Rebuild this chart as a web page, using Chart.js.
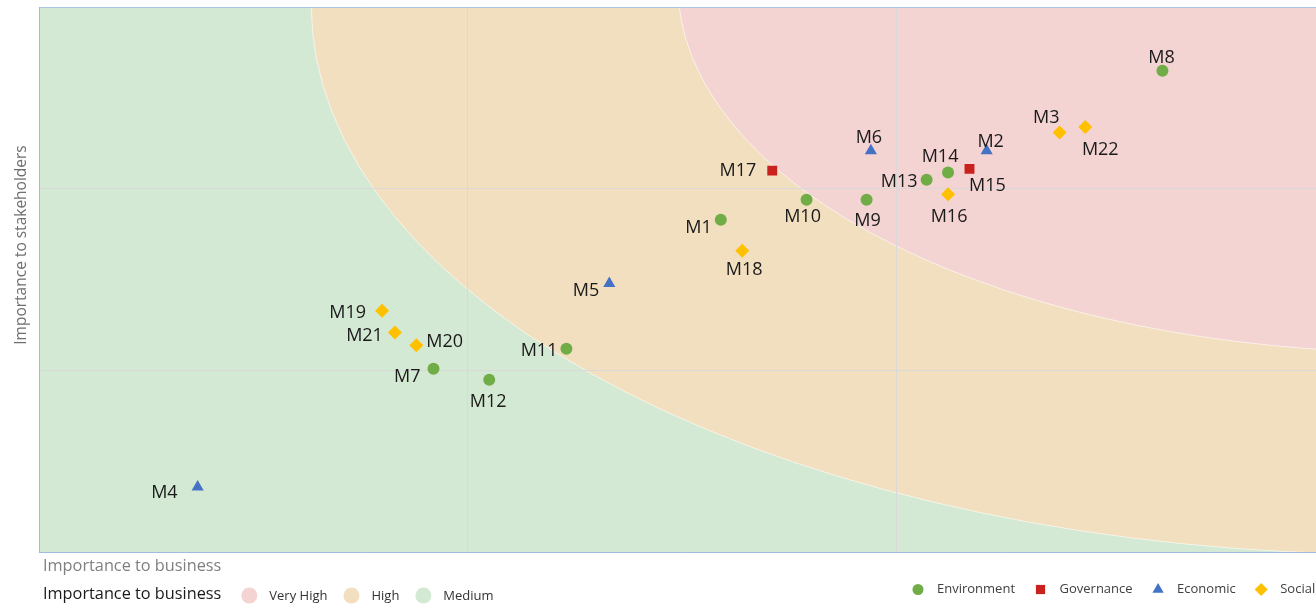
<!DOCTYPE html>
<html>
<head>
<meta charset="utf-8">
<title>Materiality matrix</title>
<script src="https://cdn.jsdelivr.net/npm/chart.js@4.4.1/dist/chart.umd.min.js"></script>
<style>
    html, body { margin: 0; padding: 0; background: #ffffff; overflow: hidden; }
    #wrap { width: 1340px; height: 605px; }
</style>
</head>
<body>
<div id="wrap"><canvas id="matrix" width="1340" height="605"></canvas></div>
<script>
// topics (axis units 0..3)
const topics = ['M1', 'M2', 'M3', 'M4', 'M5', 'M6', 'M7', 'M8', 'M9', 'M10', 'M11',
    'M12', 'M13', 'M14', 'M15', 'M16', 'M17', 'M18', 'M19', 'M20', 'M21', 'M22'];
const businessScore = [1.59, 2.21, 2.38, 0.37, 1.33, 1.94, 0.92, 2.62, 1.93, 1.79, 1.23,
    1.05, 2.07, 2.12, 2.17, 2.12, 1.71, 1.64, 0.80, 0.88, 0.83, 2.44];
const stakeholderScore = [1.83, 2.21, 2.31, 0.36, 1.48, 2.21, 1.01, 2.65, 1.94, 1.94, 1.12,
    0.95, 2.05, 2.09, 2.11, 1.97, 2.10, 1.66, 1.33, 1.14, 1.21, 2.34];
const topicGroup = ['Environment', 'Economic', 'Social', 'Economic', 'Economic', 'Economic',
    'Environment', 'Environment', 'Environment', 'Environment', 'Environment', 'Environment',
    'Environment', 'Environment', 'Governance', 'Social', 'Governance', 'Social', 'Social',
    'Social', 'Social', 'Social'];
const groupNames = ['Environment', 'Governance', 'Economic', 'Social'];

// importance zones as ellipses, axis units
const zoneNames = ['Very High', 'High', 'Medium'];
const zoneCenterX = [3.21, 3.16];
const zoneCenterY = [3.12, 3.01];
const zoneRadiusX = [1.72, 2.525];
const zoneRadiusY = [2.02, 3.02];

const axisMax = 3;

// look
const groupColors = ['#70ad47', '#c9211e', '#4472c4', '#ffc000'];
const groupPointStyles = ['circle', 'rect', 'triangle', 'rectRot'];
const groupRadius = [6, 7, 7, 7];
const zoneColors = ['#f4d3d3', '#f2dfbf', '#d4e9d3'];
const labelFont = '18px "Open Sans"';
// where each topic label sits relative to its marker
const labelAlign = ['right', 'center', 'right', 'right', 'right', 'center', 'right', 'center',
    'center', 'center', 'right', 'center', 'right', 'center', 'center', 'center', 'right',
    'center', 'right', 'left', 'right', 'center'];
const labelDx = [-9, 4, 0, -20, -10, -2, -13, -1, 1, -4, -9, -1, -9, -8, 18, 1, -16, 2, -16, 10, -12, 15];
const labelDy = [6, -11, -17, 4, 5, -15, 6, -15, 19, 15, 0, 20, 0, -18, 15, 21, -2, 17, 0, -5, 1, 21];

const datasets = groupNames.map((name, g) => {
    const points = [];
    topics.forEach((id, i) => {
        if (topicGroup[i] === name) {
            points.push({ x: businessScore[i], y: stakeholderScore[i], id: id, idx: i });
        }
    });
    return {
        label: name,
        data: points,
        backgroundColor: groupColors[g],
        borderColor: groupColors[g],
        borderWidth: 0,
        pointStyle: groupPointStyles[g],
        pointRadius: groupRadius[g],
        pointHoverRadius: groupRadius[g]
    };
});

const zonesPlugin = {
    id: 'zones',
    beforeDraw(chart) {
        const { ctx, chartArea, scales } = chart;
        const x = scales.x, y = scales.y;
        ctx.save();
        ctx.beginPath();
        ctx.rect(chartArea.left, chartArea.top, chartArea.right - chartArea.left, chartArea.bottom - chartArea.top);
        ctx.clip();
        ctx.fillStyle = zoneColors[2];
        ctx.fillRect(chartArea.left, chartArea.top, chartArea.right - chartArea.left, chartArea.bottom - chartArea.top);
        // draw the larger zone first
        for (let z = 1; z >= 0; z--) {
            const cx = x.getPixelForValue(zoneCenterX[z]);
            const cy = y.getPixelForValue(zoneCenterY[z]);
            const rx = Math.abs(x.getPixelForValue(zoneCenterX[z] + zoneRadiusX[z]) - cx);
            const ry = Math.abs(y.getPixelForValue(zoneCenterY[z] + zoneRadiusY[z]) - cy);
            ctx.beginPath();
            ctx.ellipse(cx, cy, rx, ry, 0, 0, Math.PI * 2);
            ctx.fillStyle = zoneColors[z];
            ctx.fill();
            ctx.strokeStyle = 'rgba(255,255,255,0.6)';
            ctx.lineWidth = 1;
            ctx.stroke();
        }
        ctx.restore();
    }
};

const labelsPlugin = {
    id: 'topicLabels',
    afterDatasetsDraw(chart) {
        const ctx = chart.ctx;
        ctx.save();
        ctx.font = labelFont;
        ctx.fillStyle = '#1a1a1a';
        ctx.textBaseline = 'middle';
        chart.data.datasets.forEach((ds, d) => {
            const meta = chart.getDatasetMeta(d);
            meta.data.forEach((el, j) => {
                const i = ds.data[j].idx;
                ctx.textAlign = labelAlign[i];
                ctx.fillText(ds.data[j].id, el.x + labelDx[i], el.y + labelDy[i] + 2);
            });
        });
        ctx.restore();
    }
};

const legendPlugin = {
    id: 'bottomLegend',
    afterDraw(chart) {
        const ctx = chart.ctx;
        const area = chart.chartArea;
        const draw = Chart.helpers.drawPoint;
        ctx.save();
        ctx.textBaseline = 'middle';
        ctx.textAlign = 'left';

        // axis titles
        ctx.font = '16.3px "Open Sans"';
        ctx.fillStyle = '#7f7f7f';
        ctx.fillText('Importance to business', area.left + 4, area.bottom + 14);
        ctx.save();
        ctx.translate(22, 245);
        ctx.rotate(-Math.PI / 2);
        ctx.textAlign = 'center';
        ctx.font = '15.5px "Open Sans"';
        ctx.fillStyle = '#6f6f6f';
        ctx.fillText('Importance to stakeholders', 0, 0);
        ctx.restore();

        // zone legend
        let lx = area.left + 4;
        const ly = area.bottom + 42;
        ctx.font = '16.3px "Open Sans"';
        ctx.fillStyle = '#1a1a1a';
        ctx.fillText('Importance to business', lx, ly);
        lx += ctx.measureText('Importance to business').width + 28;
        ctx.font = '13px "Open Sans"';
        zoneNames.forEach((name, z) => {
            ctx.fillStyle = zoneColors[z];
            draw(ctx, { pointStyle: 'circle', radius: 8, borderWidth: 0, rotation: 0 }, lx, ly + 1);
            ctx.fillStyle = '#333333';
            ctx.fillText(name, lx + 20, ly + 2);
            lx += 20 + ctx.measureText(name).width + 24;
        });

        // group legend
        let gx = 918;
        const gy = area.bottom + 37;
        groupNames.forEach((name, g) => {
            ctx.fillStyle = groupColors[g];
            draw(ctx, { pointStyle: groupPointStyles[g], radius: g === 0 ? 5.5 : 6.5, borderWidth: 0, rotation: 0 }, gx, gy);
            ctx.fillStyle = '#404040';
            ctx.fillText(name, gx + 19, gy);
            gx += 19 + ctx.measureText(name).width + 25.5;
        });
        ctx.restore();
    }
};

const gridColor = (ctx, borderCol) => {
    const v = ctx.tick ? ctx.tick.value : 0;
    if (v === 1 || v === 2) return '#d9d9d9';
    if (v === axisMax) return borderCol;
    return 'rgba(0,0,0,0)';
};

new Chart(document.getElementById('matrix').getContext('2d'), {
    type: 'scatter',
    data: { datasets: datasets },
    options: {
        responsive: false,
        devicePixelRatio: 1,
        animation: false,
        layout: { padding: { left: 39, top: 6.5, right: 14.6, bottom: 52.5 } },
        scales: {
            x: {
                min: 0, max: axisMax,
                ticks: { display: false, stepSize: 1 },
                grid: { color: c => gridColor(c, 'rgba(0,0,0,0)'), drawTicks: false },
                border: { color: '#9dbbe3' },
                afterFit: s => { s.height = 0; }
            },
            y: {
                min: 0, max: axisMax,
                ticks: { display: false, stepSize: 1 },
                grid: { color: c => gridColor(c, '#a9c5e8'), drawTicks: false },
                border: { color: '#9dbbe3' },
                afterFit: s => { s.width = 0; }
            }
        },
        plugins: {
            legend: { display: false },
            tooltip: { enabled: false }
        }
    },
    plugins: [zonesPlugin, labelsPlugin, legendPlugin]
});
</script>
</body>
</html>
